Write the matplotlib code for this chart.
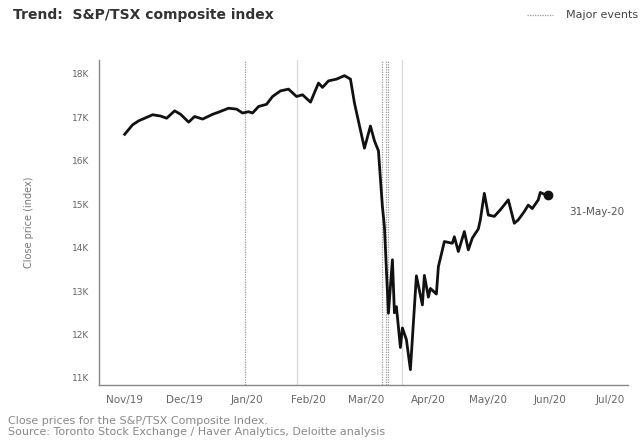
#!/usr/bin/env python3
# -*- coding: utf-8 -*-

"""
Trend chart of the S&P/TSX composite index with major events.
"""

import pandas as pd
import matplotlib
matplotlib.use("Agg")
import matplotlib.pyplot as plt
import matplotlib.ticker as ticker
from matplotlib.lines import Line2D

# Close prices
dates = [
    "2019-11-01", "2019-11-05", "2019-11-08", "2019-11-11", "2019-11-15", "2019-11-19",
    "2019-11-22", "2019-11-26", "2019-11-29", "2019-12-03", "2019-12-06", "2019-12-10",
    "2019-12-15", "2019-12-18", "2019-12-23", "2019-12-27", "2019-12-30", "2020-01-02",
    "2020-01-04", "2020-01-07", "2020-01-11", "2020-01-14", "2020-01-18", "2020-01-22",
    "2020-01-26", "2020-01-29", "2020-02-02", "2020-02-06", "2020-02-08", "2020-02-11",
    "2020-02-15", "2020-02-19", "2020-02-22", "2020-02-24", "2020-02-29", "2020-03-03",
    "2020-03-05", "2020-03-07", "2020-03-09", "2020-03-10", "2020-03-12", "2020-03-14",
    "2020-03-15", "2020-03-16", "2020-03-18", "2020-03-19", "2020-03-21", "2020-03-23",
    "2020-03-26", "2020-03-29", "2020-03-30", "2020-04-01", "2020-04-02", "2020-04-05",
    "2020-04-06", "2020-04-09", "2020-04-13", "2020-04-14", "2020-04-16", "2020-04-19",
    "2020-04-21", "2020-04-23", "2020-04-26", "2020-04-27", "2020-04-29", "2020-05-01",
    "2020-05-04", "2020-05-07", "2020-05-11", "2020-05-14", "2020-05-16", "2020-05-19",
    "2020-05-21", "2020-05-23", "2020-05-26", "2020-05-27", "2020-05-30", "2020-05-31",
]
close = [
    16610, 16830, 16920, 16980, 17060, 17030,
    16980, 17150, 17070, 16890, 17020, 16960,
    17070, 17120, 17210, 17190, 17100, 17130,
    17100, 17250, 17300, 17480, 17610, 17650,
    17480, 17520, 17350, 17790, 17690, 17840,
    17880, 17960, 17880, 17330, 16290, 16800,
    16460, 16230, 14940, 14480, 12490, 13720,
    12500, 12640, 11700, 12150, 11880, 11190,
    13350, 12680, 13360, 12860, 13060, 12930,
    13560, 14140, 14100, 14250, 13910, 14370,
    13950, 14220, 14430, 14640, 15250, 14750,
    14720, 14870, 15100, 14560, 14640, 14830,
    14980, 14900, 15100, 15270, 15210, 15210,
]

# Event markers
major_events = ["2019-12-31", "2020-03-09", "2020-03-11", "2020-03-12"]
other_events = ["2020-01-26", "2020-03-19"]

month_ticks = pd.date_range("2019-11-01", "2020-07-01", freq="MS")
month_labels = ["Nov/19", "Dec/19", "Jan/20", "Feb/20", "Mar/20",
                "Apr/20", "May/20", "Jun/20", "Jul/20"]
y_ticks = [11000, 12000, 13000, 14000, 15000, 16000, 17000, 18000]

last_label = "31-May-20"

if __name__ == "__main__":
    series = pd.Series(close, index=pd.to_datetime(dates))

    fig = plt.figure(figsize=(6.41, 4.48), dpi=100)
    ax = fig.add_axes([0.154, 0.141, 0.826, 0.725])

    # Event lines behind the data
    for ev in other_events:
        ax.axvline(pd.Timestamp(ev), color="#dcdcdc", lw=1.0, zorder=1)
    for ev in major_events:
        ax.axvline(pd.Timestamp(ev), color="#9a9a9a", lw=0.9, ls=(0, (1, 1)), zorder=1)

    ax.plot(series.index, series.values, color="#111111", lw=2.0, zorder=3,
            solid_joinstyle="round")
    ax.plot(series.index[-1], series.values[-1], "o", color="#111111", ms=6, zorder=4)
    ax.annotate(last_label, (series.index[-1], series.values[-1]),
                xytext=(15, -12), textcoords="offset points",
                fontsize=7.5, color="#555555", va="center", ha="left")

    ax.set_xlim(pd.Timestamp("2019-10-19"), pd.Timestamp("2020-07-10"))
    ax.set_ylim(10840, 18320)

    ax.set_xticks(month_ticks)
    ax.set_xticklabels(month_labels)
    ax.set_yticks(y_ticks)
    ax.yaxis.set_major_formatter(ticker.FuncFormatter(lambda v, p: f"{int(v / 1000)}K"))
    ax.tick_params(length=0, labelcolor="#666666")
    ax.tick_params(axis="x", labelsize=7.5, pad=7)
    ax.tick_params(axis="y", labelsize=6.5, pad=7)

    for side in ["top", "right"]:
        ax.spines[side].set_visible(False)
    for side in ["left", "bottom"]:
        ax.spines[side].set_color("#888888")
        ax.spines[side].set_linewidth(1.0)

    ax.set_ylabel("Close price (index)", fontsize=7, color="#777777", labelpad=27)

    # Title and legend
    fig.text(0.021, 0.966, "Trend:  S&P/TSX composite index", fontsize=10,
             fontweight="bold", color="#333333", va="center", ha="left")
    fig.add_artist(Line2D([0.822, 0.862], [0.966, 0.966], transform=fig.transFigure,
                          color="#9a9a9a", lw=0.9, ls=(0, (1, 1))))
    fig.text(0.883, 0.966, "Major events", fontsize=8, color="#444444",
             va="center", ha="left")

    # Footnotes
    fig.text(0.013, 0.061, "Close prices for the S&P/TSX Composite Index.",
             fontsize=8, color="#888888", va="center")
    fig.text(0.013, 0.036, "Source: Toronto Stock Exchange / Haver Analytics, Deloitte analysis",
             fontsize=8, color="#888888", va="center")

    fig.savefig("out.png", dpi=100)
